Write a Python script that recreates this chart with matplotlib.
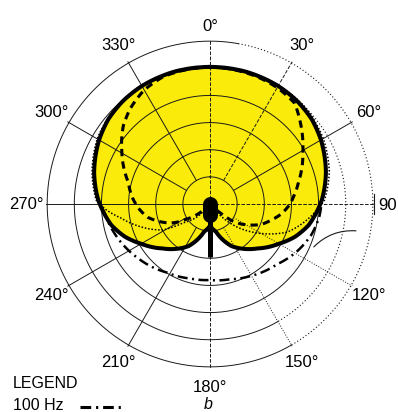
import numpy as np
import matplotlib.pyplot as plt
from matplotlib.lines import Line2D

plt.rcParams['font.family'] = ['Liberation Sans', 'DejaVu Sans']

# angles en degres (0 en haut, sens horaire), rayon en anneaux (anneau exterieur = 6)
ang_main = [0, 15, 30, 40, 50, 60, 75, 88, 95, 102, 111, 120, 133, 153, 168, 180,
            192, 207, 227, 240, 249, 258, 265, 272, 285, 300, 310, 320, 330, 345, 360]
r_main = [5.05, 5.05, 5.02, 4.97, 4.88, 4.72, 4.42, 4.12, 3.92, 3.72, 3.36, 2.93, 2.4, 1.74, 1.04, 0.8,
          1.04, 1.74, 2.4, 2.93, 3.36, 3.72, 3.92, 4.12, 4.42, 4.72, 4.88, 4.97, 5.02, 5.05, 5.05]

ang_dash = [0, 20, 30, 40, 48, 60, 75, 83, 90, 98, 105, 112, 118, 123, 128, 131, 134, 180,
            226, 229, 236, 240, 244, 251, 258, 266, 275, 285, 300, 312, 320, 330, 340, 360]
r_dash = [5.05, 5.0, 4.95, 4.85, 4.48, 3.95, 3.4, 3.15, 2.95, 2.65, 2.32, 2.02, 1.65, 1.35, 0.95, 0.5, 0.2, 0.15,
          0.2, 0.5, 0.95, 1.3, 1.6, 1.98, 2.35, 2.62, 2.88, 3.12, 3.75, 4.3, 4.58, 4.85, 5.0, 5.05]

ang_dot = [0, 30, 45, 60, 75, 88, 95, 100, 110, 122, 131, 138, 145, 180,
           220, 225, 235, 241, 252, 261, 267, 272, 285, 300, 315, 330, 360]
r_dot = [5.05, 5.05, 5.0, 4.82, 4.55, 4.22, 3.85, 3.58, 3.03, 2.0, 1.26, 0.6, 0.2, 0.15,
         0.2, 0.67, 1.21, 1.97, 2.7, 3.32, 3.85, 4.2, 4.5, 4.8, 4.97, 5.05, 5.05]

ang_100hz = [0, 15, 30, 40, 50, 60, 75, 88, 97, 107, 119, 132, 151, 165, 180,
             195, 212, 233, 250, 265, 272, 285, 300, 310, 320, 330, 345, 360]
r_100hz = [5.05, 5.05, 5.02, 4.97, 4.88, 4.72, 4.42, 4.12, 4.05, 3.9, 3.64, 3.32, 3.04, 2.87, 2.8,
           2.84, 2.98, 3.32, 3.63, 3.9, 4.12, 4.42, 4.72, 4.88, 4.97, 5.02, 5.05, 5.05]

rings = [1, 2, 3, 4, 5, 6]
spokes = [0, 30, 60, 90, 120, 150, 180, 210, 240, 270, 300, 330]
spoke_labels = ['0°', '30°', '60°', '90', '120°', '150°', '180°', '210°', '240°', '270°', '300°', '330°']
spoke_styles = ['--', '--', '-', '--', ':', ':', '--', '-', '-', '-', '-', '-']

yellow = '#FAEB0A'
grid_col = '#1a1a1a'

fig = plt.figure(figsize=(3.98, 4.12), dpi=100)
ax = fig.add_axes([0.0503, 0.0437, 0.9548, 0.9223], projection='polar')
ax.set_theta_zero_location('N')
ax.set_theta_direction(-1)
ax.set_ylim(0, 7)
ax.axis('off')


def smooth(artist):
    # trace en arcs dans le repere polaire (rendu seulement)
    artist.get_path()._interpolation_steps = 24
    return artist


# zone jaune
for p in ax.fill(np.radians(ang_main), r_main, color=yellow, lw=0, zorder=1):
    smooth(p)

# cercles
full = np.radians(np.linspace(0, 360, 361))
right = np.radians(np.linspace(10, 150, 141))
left = np.radians(np.linspace(150, 370, 221))
for ring in rings:
    if ring >= 5:
        ax.plot(left, [ring] * len(left), color=grid_col, lw=0.7, zorder=2)
        ax.plot(right, [ring] * len(right), color=grid_col, lw=0.8, ls=(0, (1, 2)), zorder=2)
    else:
        ax.plot(full, [ring] * len(full), color=grid_col, lw=0.7, zorder=2)

# rayons + etiquettes
for a, lab, st in zip(spokes, spoke_labels, spoke_styles):
    r0 = 0 if a % 90 == 0 else 1
    ax.plot([np.radians(a)] * 2, [r0, 6.05], color=grid_col, lw=0.7, ls=st, zorder=2)
    if lab == '90':
        ax.text(np.radians(90.5), 6.2, lab, ha='left', va='center', fontsize=12)
    else:
        rr = 6.55 if a == 0 else 6.75
        ax.text(np.radians(a), rr, lab, ha='center', va='center', fontsize=12)
ax.plot(np.radians([86.5, 93.5]), [6.07, 6.07], color=grid_col, lw=0.8, zorder=2)

# courbes
l100, = ax.plot(np.radians(ang_100hz), r_100hz, color='black', lw=1.8,
                ls=(0, (4, 1.8, 0.8, 1.8)), zorder=3)
ldot, = ax.plot(np.radians(ang_dot), r_dot, color='black', lw=1.1, ls=(0, (1, 1.2)), zorder=3)
ldash, = ax.plot(np.radians(ang_dash), r_dash, color='black', lw=2.2, ls=(0, (2.4, 1.7)), zorder=4)
lmain, = ax.plot(np.radians(ang_main), r_main, color='black', lw=2.9, zorder=5)
for ln in (l100, ldot, ldash, lmain):
    smooth(ln)

# micro au centre
ax.plot([np.pi, np.pi], [0, 0.42], color='black', lw=10.8, solid_capstyle='round', zorder=6)
ax.plot([np.pi, np.pi], [0.6, 1.95], color='black', lw=3.6, solid_capstyle='butt', zorder=6)

# trait de rappel a droite
ax.annotate('', xy=(np.radians(113.8), 4.1), xytext=(np.radians(100.3), 5.57),
            arrowprops=dict(arrowstyle='-', lw=0.8, color=grid_col,
                            connectionstyle='arc3,rad=0.25'))

# legende
fig.text(13 / 398, 1 - 384 / 412, 'LEGEND', fontsize=11.5, va='center', ha='left')
fig.text(13 / 398, 1 - 405 / 412, '100 Hz', fontsize=11.5, va='center', ha='left')
fig.add_artist(Line2D([80 / 398, 125 / 398], [1 - 407 / 412] * 2, color='black', lw=2.2,
                      ls=(0, (3.5, 1.6, 0.7, 1.6)), transform=fig.transFigure))
fig.text(208 / 398, 1 - 397 / 412, 'b', fontsize=11.5, style='italic', va='top', ha='center')

fig.savefig('out.png', dpi=100)
